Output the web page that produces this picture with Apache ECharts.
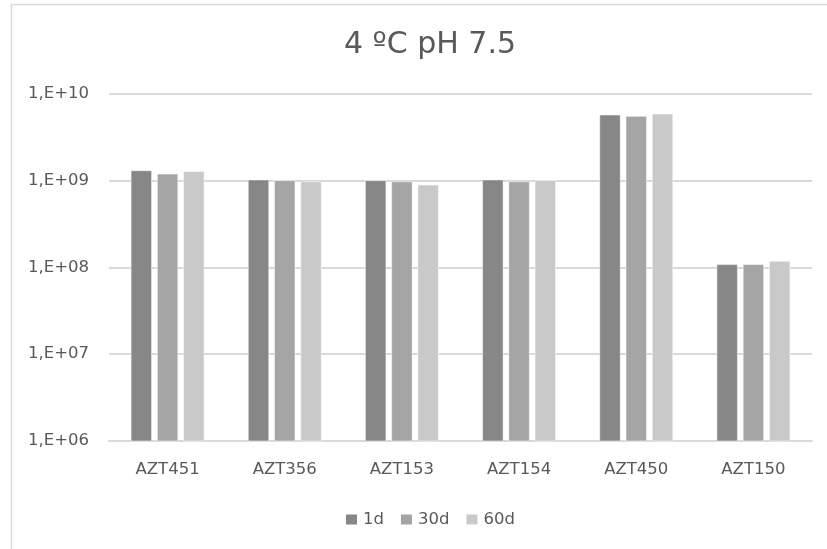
<!DOCTYPE html>
<html>
<head>
<meta charset="utf-8">
<title>4 ºC pH 7.5</title>
<script src="https://cdn.jsdelivr.net/npm/echarts@6/dist/echarts.min.js"></script>
<style>
  html, body { margin: 0; padding: 0; background: #ffffff; }
  #chart { width: 827px; height: 549px; }
</style>
</head>
<body>
<div id="chart"></div>
<script>
// Strains on the x axis
const categories = ['AZT451', 'AZT356', 'AZT153', 'AZT154', 'AZT450', 'AZT150'];

// Counts after 1, 30 and 60 days of storage at 4 ºC, pH 7.5
const series1d  = [1.30e9, 1.02e9, 1.00e9, 1.02e9, 5.69e9, 1.08e8];
const series30d = [1.19e9, 1.00e9, 0.97e9, 0.97e9, 5.49e9, 1.08e8];
const series60d = [1.27e9, 0.97e9, 0.89e9, 1.00e9, 5.83e9, 1.18e8];

const seriesNames = ['1d', '30d', '60d'];
const seriesColors = ['#878787', '#a5a5a5', '#c9c9c9'];

// Log axis bounds and their labels
const yMin = 1e6;
const yMax = 1e10;
const yTickLabels = { 6: '1,E+06', 7: '1,E+07', 8: '1,E+08', 9: '1,E+09', 10: '1,E+10' };

const FONT = 'DejaVu Sans';
const TEXT_COLOR = '#595959';
const GRID_COLOR = '#d9d9d9';

const chart = echarts.init(document.getElementById('chart'), null, { renderer: 'canvas' });

const values = [series1d, series30d, series60d];

chart.setOption({
  backgroundColor: '#ffffff',
  animation: false,
  title: {
    text: '4 ºC pH 7.5',
    left: 425,
    textAlign: 'center',
    top: 25,
    textStyle: { fontFamily: FONT, fontSize: 30, fontWeight: 'normal', color: TEXT_COLOR }
  },
  legend: {
    data: seriesNames,
    bottom: 16,
    left: 339,
    icon: 'rect',
    itemWidth: 13,
    itemHeight: 12,
    itemGap: 15,
    textStyle: { fontFamily: FONT, fontSize: 16.5, color: TEXT_COLOR }
  },
  grid: { left: 109, right: 15, top: 93.5, bottom: 108, containLabel: false },
  xAxis: {
    type: 'category',
    data: categories,
    axisTick: { show: false },
    axisLine: { show: true, lineStyle: { color: GRID_COLOR, width: 2 } },
    axisLabel: { margin: 20, fontFamily: FONT, fontSize: 16.5, color: TEXT_COLOR }
  },
  yAxis: {
    type: 'log',
    logBase: 10,
    min: yMin,
    max: yMax,
    axisLine: { show: false },
    axisTick: { show: false },
    splitLine: { show: true, lineStyle: { color: GRID_COLOR, width: 2 } },
    axisLabel: {
      margin: 20,
      fontFamily: FONT,
      fontSize: 16.5,
      color: TEXT_COLOR,
      formatter: function (v) {
        const e = Math.round(Math.log10(v));
        return yTickLabels[e] || '';
      }
    }
  },
  series: seriesNames.map(function (name, i) {
    return {
      name: name,
      type: 'bar',
      data: values[i],
      barWidth: 21,
      barGap: '25%',
      itemStyle: { color: seriesColors[i], borderColor: '#ffffff', borderWidth: 0.5 }
    };
  }),
  graphic: [{
    type: 'rect',
    shape: { x: 11.5, y: 4.5, width: 900, height: 700 },
    style: { fill: 'none', stroke: GRID_COLOR, lineWidth: 1.5 },
    silent: true,
    z: -1
  }]
});
</script>
</body>
</html>
